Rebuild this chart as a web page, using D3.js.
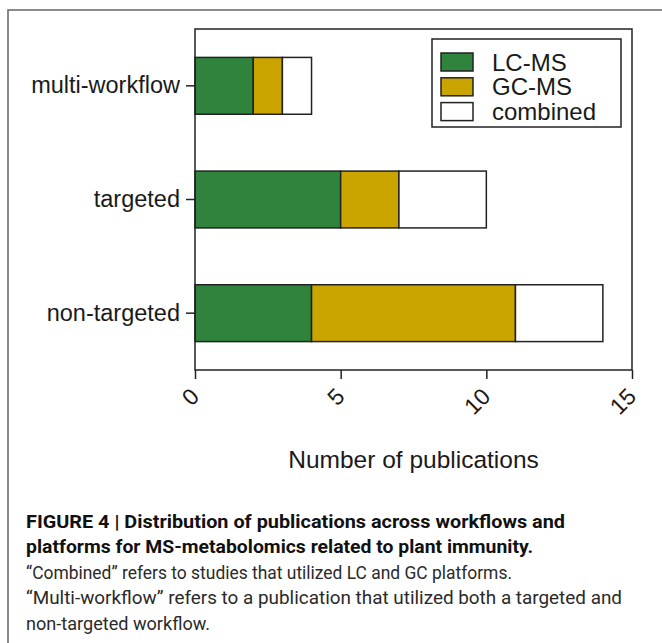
<!DOCTYPE html>
<html>
<head>
<meta charset="utf-8">
<script src="https://cdn.jsdelivr.net/npm/d3@7"></script>
<style>
  html, body { margin: 0; padding: 0; background: #fff; }
  svg { display: block; }
</style>
</head>
<body>
<svg id="chart" width="662" height="643"></svg>
<script>
// ---- data ----
const categories = ["multi-workflow", "targeted", "non-targeted"];
const seriesNames = ["LC-MS", "GC-MS", "combined"];
const lcms = [2, 5, 4];
const gcms = [1, 2, 7];
const combined = [1, 3, 3];
const xTicks = [0, 5, 10, 15];
const colors = ["#30833c", "#caa500", "#ffffff"];
const axisTitle = "Number of publications";
const captionBold = [
  "FIGURE 4 | Distribution of publications across workflows and",
  "platforms for MS-metabolomics related to plant immunity."
];
const captionRegular = [
  "\u201CCombined\u201D refers to studies that utilized LC and GC platforms.",
  "\u201CMulti-workflow\u201D refers to a publication that utilized both a targeted and",
  "non-targeted workflow."
];

// ---- layout ----
const svg = d3.select("#chart");
const pLeft = 195, pRight = 632, pTop = 29, pBottom = 370;
const font = "'Liberation Sans', Arial, Helvetica, sans-serif";
const ink = "#1a1a1a";

// outer frame
svg.append("rect").attr("x", 8).attr("y", 10).attr("width", 700).attr("height", 700)
  .attr("fill", "none").attr("stroke", "#6e6e6e").attr("stroke-width", 1.6);

const x = d3.scaleLinear().domain([0, 15]).range([pLeft, pRight]);
const y = d3.scaleBand().domain(categories).range([pTop, pBottom])
  .paddingInner(0.5).paddingOuter(0.25);

const table = categories.map((c, i) => ({cat: c, "LC-MS": lcms[i], "GC-MS": gcms[i], "combined": combined[i]}));
const stacked = d3.stack().keys(seriesNames)(table);

const g = svg.append("g");
stacked.forEach((layer, si) => {
  g.selectAll(null).data(layer).enter().append("rect")
    .attr("x", d => x(d[0]))
    .attr("y", d => y(d.data.cat))
    .attr("width", d => x(d[1]) - x(d[0]))
    .attr("height", y.bandwidth())
    .attr("fill", colors[si])
    .attr("stroke", "#222")
    .attr("stroke-width", 1.5);
});

// plot box
svg.append("rect").attr("x", pLeft).attr("y", pTop)
  .attr("width", pRight - pLeft).attr("height", pBottom - pTop)
  .attr("fill", "none").attr("stroke", "#222").attr("stroke-width", 1.5);

// y axis
const yAxis = svg.append("g").attr("transform", `translate(${pLeft},0)`)
  .call(d3.axisLeft(y).tickSize(9).tickPadding(6));
yAxis.select(".domain").remove();
yAxis.selectAll(".tick line").attr("stroke", "#222").attr("stroke-width", 1.5);
yAxis.selectAll(".tick text").attr("font-family", font).attr("font-size", 23.5)
  .attr("fill", ink);

// x axis
const xAxis = svg.append("g").attr("transform", `translate(0,${pBottom})`)
  .call(d3.axisBottom(x).tickValues(xTicks).tickSize(9).tickFormat(d3.format("d")));
xAxis.select(".domain").remove();
xAxis.selectAll(".tick line").attr("stroke", "#222").attr("stroke-width", 1.5);
xAxis.selectAll(".tick text")
  .attr("font-family", font).attr("font-size", 23).attr("fill", ink)
  .attr("text-anchor", "end")
  .attr("x", 0).attr("y", 0).attr("dy", 0)
  .attr("transform", "translate(5,28) rotate(-45)");

// axis title
svg.append("text").attr("x", (pLeft + pRight) / 2).attr("y", 468)
  .attr("text-anchor", "middle").attr("font-family", font).attr("font-size", 24.5)
  .attr("fill", ink).text(axisTitle);

// legend
const lg = svg.append("g");
lg.append("rect").attr("x", 432).attr("y", 39).attr("width", 189).attr("height", 88)
  .attr("fill", "#fff").attr("stroke", "#222").attr("stroke-width", 1.5);
seriesNames.forEach((s, i) => {
  const cy = 62 + i * 24.8;
  lg.append("rect").attr("x", 441).attr("y", cy - 9).attr("width", 32).attr("height", 18)
    .attr("fill", colors[i]).attr("stroke", "#222").attr("stroke-width", 1.5);
  lg.append("text").attr("x", 492).attr("y", cy + 8.5)
    .attr("font-family", font).attr("font-size", 24).attr("fill", ink).text(s);
});

// caption
const capFont = "'Liberation Sans Narrow', 'Roboto', 'Liberation Sans', Arial, sans-serif";
const capWidths = [539, 507, 486, 596, 184];
const capLines = captionBold.map(t => ({t, bold: true})).concat(captionRegular.map(t => ({t, bold: false})));
capLines.forEach((l, i) => {
  svg.append("text").attr("x", 26).attr("y", 528 + i * 25.4)
    .attr("font-family", capFont).attr("font-size", 19)
    .attr("font-weight", l.bold ? "bold" : "normal")
    .attr("fill", l.bold ? "#111" : "#2a2a2a")
    .attr("textLength", capWidths[i]).attr("lengthAdjust", "spacingAndGlyphs")
    .text(l.t);
});
</script>
</body>
</html>
